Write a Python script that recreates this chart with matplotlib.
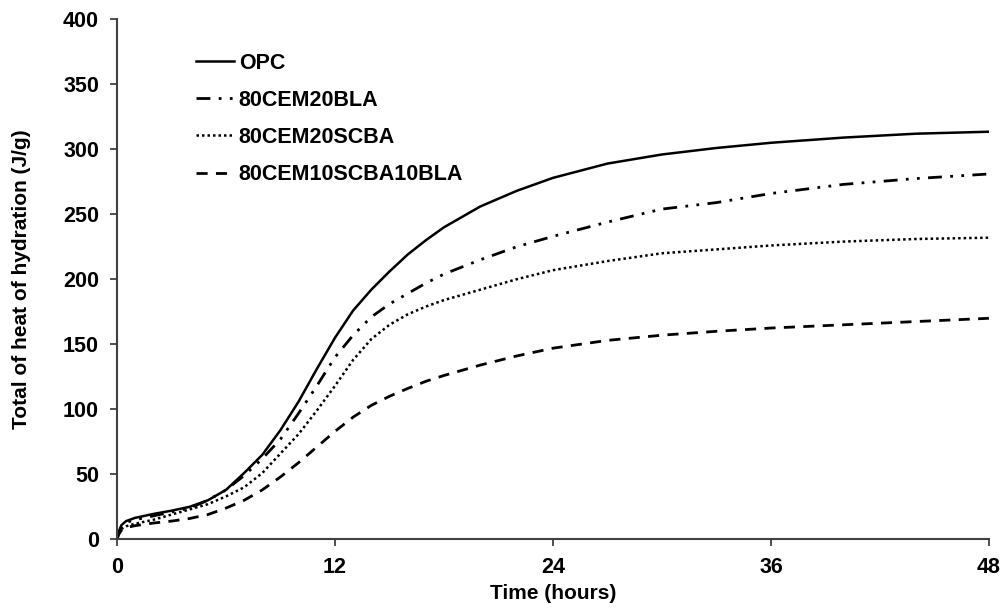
import matplotlib
matplotlib.use("Agg")
import matplotlib.pyplot as plt

plt.rcParams['font.family'] = ['Liberation Sans', 'DejaVu Sans']
plt.rcParams['font.weight'] = 'bold'

# time (hours)
hours = [0, 0.1, 0.25, 0.5, 1, 2, 3, 4, 5, 6, 7, 8, 9, 10, 11, 12, 13, 14, 15, 16,
         17, 18, 20, 22, 24, 27, 30, 33, 36, 40, 44, 48]

# cumulative heat of hydration (J/g)
opc = [0, 6, 11, 14, 16.5, 19.5, 22, 25, 30, 38, 51, 65, 84, 106, 131, 155, 176, 192,
       206, 219, 230, 240, 256, 268, 278, 289, 296, 301, 305, 309, 312, 313.5]
bla = [0, 5, 10, 13, 15, 18, 21, 24, 30, 38, 49, 62, 77, 97, 118, 140, 157, 171,
       181, 189, 197, 204, 215, 225, 233, 244, 254, 259, 266, 273, 277.5, 281]
scba = [0, 4, 8, 10, 12, 15, 19, 23, 27, 33, 40, 51, 66, 81, 99, 118, 138, 154,
        165, 173, 179, 184, 192, 200, 207, 214, 220, 223, 226, 229, 231, 232]
mix = [0, 4, 7, 9, 10.5, 12.5, 14, 16, 19, 24, 30, 38, 48, 59, 71, 83, 94, 103,
       110, 116, 121.5, 126, 134, 141, 147, 153, 157, 160, 162.5, 165, 167.5, 170]

fig = plt.figure(figsize=(10.06, 6.10), dpi=100)
ax = fig.add_axes([0.1163, 0.1159, 0.8667, 0.8525])

ax.plot(hours, opc, color='black', lw=1.8, ls='-', label='OPC')
ax.plot(hours, bla, color='black', lw=2, ls=(0, (5, 3, 1, 3, 1, 3)), label='80CEM20BLA')
ax.plot(hours, scba, color='black', lw=1.8, ls=(0, (1, 1.2)), label='80CEM20SCBA')
ax.plot(hours, mix, color='black', lw=2, ls=(0, (4, 3)), label='80CEM10SCBA10BLA')

ax.set_xlim(0, 48)
ax.set_ylim(0, 400)
ax.set_xticks([0, 12, 24, 36, 48])
ax.set_yticks(range(0, 401, 50))

for s in ['top', 'right']:
    ax.spines[s].set_visible(False)
for s in ['left', 'bottom']:
    ax.spines[s].set_color('#404040')
    ax.spines[s].set_linewidth(1.5)
ax.tick_params(direction='out', length=5, width=1.3, color='#404040',
               labelsize=15.5, pad=8)
for lab in ax.get_xticklabels() + ax.get_yticklabels():
    lab.set_fontweight('bold')

ax.set_xlabel('Time (hours)', fontsize=15, fontweight='bold', labelpad=4)
ax.set_ylabel('Total of heat of hydration (J/g)', fontsize=15, fontweight='bold', labelpad=23)

leg = ax.legend(loc='upper left', bbox_to_anchor=(0.068, 0.973), frameon=False,
                fontsize=15.5, handlelength=1.8, handletextpad=0.2, labelspacing=0.75)
for t in leg.get_texts():
    t.set_fontweight('bold')

fig.savefig('out.png', dpi=100)
